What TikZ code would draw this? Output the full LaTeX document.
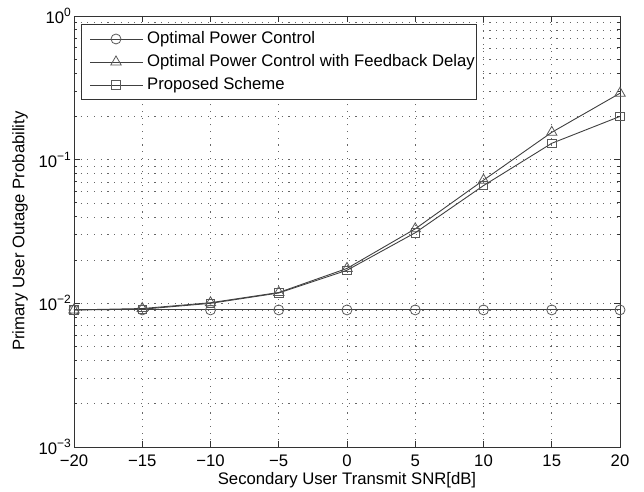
\documentclass[tikz,border=0pt]{standalone}
\usepackage{fontspec}
\setmainfont{Liberation Sans}
\usetikzlibrary{plotmarks}
\begin{document}
\begin{tikzpicture}[x=1bp,y=1bp,font=\fontsize{16.7bp}{19bp}\selectfont,
  gridline/.style={gray!80!black,line width=0.6bp,dash pattern=on 1.1bp off 5.6bp},
  axisline/.style={black!80,line width=0.9bp},
  dataline/.style={black!75,line width=0.9bp},
  mk/.style={draw=black!65,fill=none,solid,line width=0.8bp}]
\useasboundingbox (0,0) rectangle (644,492);
\begin{scope}[shift={(347,476)},x=13.65bp,y=143.67bp]
  % grid
  \foreach \v in {-15,-10,...,15} \draw[gridline] (\v,-3) -- (\v,0);
  \foreach \e in {-3,-2,-1}{
    \foreach \m in {2,...,9} \draw[gridline] (-20,{\e+log10(\m)}) -- (20,{\e+log10(\m)});
  }
  \foreach \e in {-2,-1} \draw[gridline] (-20,\e) -- (20,\e);
  % ticks
  \foreach \v in {-15,-10,...,15}{
    \draw[axisline] (\v,-3) -- ++(0,6bp);
    \draw[axisline] (\v,0) -- ++(0,-6bp);
  }
  \foreach \e in {-2,-1}{
    \draw[axisline] (-20,\e) -- ++(6bp,0);
    \draw[axisline] (20,\e) -- ++(-6bp,0);
  }
  \foreach \e in {-3,-2,-1}{
    \foreach \m in {2,...,9}{
      \draw[axisline] (-20,{\e+log10(\m)}) -- ++(3bp,0);
      \draw[axisline] (20,{\e+log10(\m)}) -- ++(-3bp,0);
    }
  }
  \draw[axisline] (-20,-3) rectangle (20,0);
  % tick labels
  \foreach \v/\t in {-20/−20,-15/−15,-10/−10,-5/−5,0/0,5/5,10/10,15/15,20/20}
    \node[anchor=north,inner sep=0pt] (xt\v) at ([yshift=-8bp]\v,-3) {\t};
  \foreach \e/\t in {0/0,-1/−1,-2/−2,-3/−3}
    \node[anchor=east,inner sep=0pt] (yt\e) at ([xshift=-3bp]-20,\e) {10\raisebox{7bp}{\fontsize{12bp}{14bp}\selectfont\t}};
  % data
  \draw[dataline] plot[mark=o,mark size=5bp,mark options={mk}] coordinates {
    (-20,-2.0458) (-15,-2.0458) (-10,-2.0458) (-5,-2.0458) (0,-2.0458) (5,-2.0458) (10,-2.0458) (15,-2.0458) (20,-2.0458)};
  \draw[dataline] plot[mark=triangle,mark size=6bp,mark options={mk}] coordinates {
    (-20,-2.0458) (-15,-2.0362) (-10,-1.9957) (-5,-1.9245) (0,-1.7570) (5,-1.4815) (10,-1.1427) (15,-0.8097) (20,-0.5376)};
  \draw[dataline] plot[mark=square,mark size=4.3bp,mark options={mk}] coordinates {
    (-20,-2.0458) (-15,-2.0410) (-10,-2.0) (-5,-1.9281) (0,-1.7696) (5,-1.5086) (10,-1.1805) (15,-0.8861) (20,-0.6990)};
\end{scope}
% axis labels
\node[anchor=center] (xlab) at (347,12) {Secondary User Transmit SNR[dB]};
\node[anchor=center,rotate=90] (ylab) at (20,261) {Primary User Outage Probability};
% legend
\draw[axisline,fill=white] (81,393) rectangle (476,468);
\foreach \yy/\mk/\ms/\t [count=\i] in {453/o/5bp/Optimal Power Control,430/triangle/6bp/Optimal Power Control with Feedback Delay,407/square/4.3bp/Proposed Scheme}{
  \draw[dataline] (90,\yy) -- (143,\yy);
  \draw[dataline] plot[only marks,mark=\mk,mark size=\ms,mark options={mk,fill=white}] coordinates {(116,\yy)};
  \node[anchor=west,inner sep=0pt] (leg\i) at (147,\yy) {\t};
}
\end{tikzpicture}
\end{document}
